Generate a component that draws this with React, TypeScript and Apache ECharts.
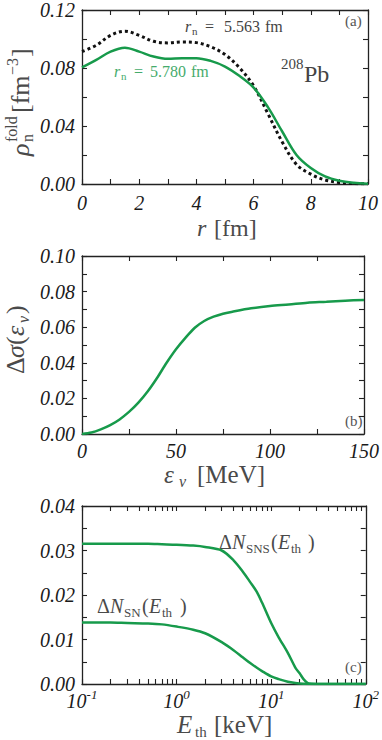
import React, { useEffect, useRef } from "react";
import * as echarts from "echarts";

// ---------- data ----------
const rValues = [0, 0.5, 1, 1.5, 2, 2.5, 3, 3.5, 4, 4.5, 5, 5.5, 6, 6.5, 7, 7.5, 8, 8.5, 9, 9.5, 10];
const rhoFold5780 = [0.0805, 0.0856, 0.0913, 0.094, 0.0913, 0.0879, 0.0863, 0.0868, 0.0868, 0.0849, 0.081, 0.0746, 0.0665, 0.053, 0.0362, 0.02, 0.011, 0.0052, 0.0022, 0.0008, 0.0002];
const rhoFold5563 = [0.0913, 0.0957, 0.1025, 0.1054, 0.1025, 0.0984, 0.0973, 0.098, 0.0975, 0.0946, 0.0893, 0.0803, 0.0677, 0.0485, 0.029, 0.0135, 0.0068, 0.0028, 0.001, 0.0003, 0.0001];

const energyNu = [0, 5, 10, 15, 20, 25, 30, 35, 40, 45, 50, 55, 60, 65, 70, 75, 80, 90, 100, 110, 120, 130, 140, 150];
const deltaSigma = [0, 0.0008, 0.0026, 0.005, 0.0082, 0.0124, 0.0176, 0.024, 0.0316, 0.04, 0.0476, 0.054, 0.0597, 0.0635, 0.0659, 0.0676, 0.0687, 0.0706, 0.0719, 0.0728, 0.0738, 0.0743, 0.0749, 0.0753];

const eThreshold = [0.1, 0.2, 0.3, 0.5, 0.7, 1, 1.5, 2, 3, 4, 5, 6, 7, 8, 10, 12, 15, 18, 20, 22, 25, 30, 50, 100];
const deltaNSNS = [0.0315, 0.0315, 0.0315, 0.0315, 0.0314, 0.0313, 0.0311, 0.0308, 0.03, 0.0278, 0.0253, 0.0229, 0.0208, 0.0183, 0.0137, 0.0105, 0.007, 0.0037, 0.0024, 0.0011, 0.0001, 0, 0, 0];
const deltaNSN = [0.0138, 0.0138, 0.0137, 0.0136, 0.0134, 0.0129, 0.0122, 0.0114, 0.0094, 0.0076, 0.006, 0.0047, 0.0037, 0.0029, 0.0017, 0.0011, 0.0005, 0.0002, 0.0001, 0.00005, 0, 0, 0, 0];

const logTickValues = [0.1, 0.2, 0.3, 0.4, 0.5, 0.6, 0.7, 0.8, 0.9, 1, 2, 3, 4, 5, 6, 7, 8, 9, 10, 20, 30, 40, 50, 60, 70, 80, 90, 100];
const logLabelValues = [0.1, 1, 10, 100];

// ---------- style ----------
const FONT = "Liberation Serif, Times New Roman, serif";
const GREEN = "#179a4b";
const GREEN_TEXT = "#45ab6c";
const TITLE = "#4a4a4a";
const INK = "#1a1a1a";

const axisLine = { show: true, onZero: false, lineStyle: { color: "#222", width: 1.3 } };
const tick = { show: true, inside: true, length: 5, lineStyle: { color: "#222", width: 1.1 } };
const labelBase = { color: INK, fontFamily: FONT, fontStyle: "italic", fontSize: 20 };

function xAxes(gridIndex: number, base: any, label: any, tickExtra: any = {}) {
  return [
    { ...base, gridIndex, position: "bottom", axisLine, axisTick: { ...tick, ...tickExtra }, axisLabel: { ...labelBase, ...label }, splitLine: { show: false } },
    { ...base, gridIndex, position: "top", axisLine, axisTick: { ...tick, ...tickExtra }, axisLabel: { show: false }, splitLine: { show: false } },
  ];
}
function yAxes(gridIndex: number, base: any, label: any) {
  return [
    { ...base, gridIndex, position: "left", axisLine, axisTick: tick, axisLabel: { ...labelBase, margin: 7, ...label }, splitLine: { show: false } },
    { ...base, gridIndex, position: "right", axisLine, axisTick: tick, axisLabel: { show: false }, splitLine: { show: false } },
  ];
}
const every = (step: number, digits: number) => (v: number) => {
  const k = Math.round((v / step) * 1000) / 1000;
  return Math.abs(k - Math.round(k)) < 1e-6 ? v.toFixed(digits) : "";
};

function t(text: string, x: number, baseline: number, size: number, o: any = {}) {
  return {
    type: "text",
    x,
    y: baseline - 0.3 * size,
    silent: true,
    style: {
      text,
      fontFamily: FONT,
      fontSize: size,
      fontStyle: o.italic ? "italic" : "normal",
      fill: o.fill || TITLE,
      textAlign: "left",
      textVerticalAlign: "middle",
    },
  };
}

function pairs(xs: number[], ys: number[]) {
  return xs.map((x, i) => [x, ys[i]]);
}

export default function App() {
  const ref = useRef<HTMLDivElement>(null);
  useEffect(() => {
    if (!ref.current) return;
    const chart = echarts.init(ref.current, undefined, { renderer: "svg" });
    const logRich = {
      b: { fontFamily: FONT, fontStyle: "italic", fontSize: 20, color: INK, verticalAlign: "bottom", padding: [3, 0, 0, 0] },
      e: { fontFamily: FONT, fontStyle: "italic", fontSize: 13, color: INK, verticalAlign: "top" },
    };
    const option: any = {
      animation: false,
      backgroundColor: "#ffffff",
      grid: [
        { left: 82, top: 6, width: 286, height: 178 },
        { left: 82, top: 256, width: 286, height: 178 },
        { left: 82, top: 506, width: 286, height: 178 },
      ],
      xAxis: [
        ...xAxes(0, { type: "value", min: 0, max: 10, interval: 1 }, { margin: 9, formatter: every(2, 0) }),
        ...xAxes(1, { type: "value", min: 0, max: 150, interval: 25 }, { margin: 7, formatter: every(50, 0) }),
        ...xAxes(
          2,
          { type: "log", logBase: 10, min: 0.1, max: 100 },
          { margin: 4, customValues: logLabelValues, formatter: (v: number) => `{b|10}{e|${Math.round(Math.log10(v))}}`, rich: logRich },
          { customValues: logTickValues }
        ),
      ],
      yAxis: [
        ...yAxes(0, { type: "value", min: 0, max: 0.12, interval: 0.02 }, { formatter: every(0.04, 2) }),
        ...yAxes(1, { type: "value", min: 0, max: 0.1, interval: 0.01 }, { formatter: every(0.02, 2) }),
        ...yAxes(2, { type: "value", min: 0, max: 0.04, interval: 0.005 }, { formatter: every(0.01, 2) }),
      ],
      series: [
        {
          type: "line", xAxisIndex: 0, yAxisIndex: 0, data: pairs(rValues, rhoFold5563), smooth: 0.35, showSymbol: false,
          lineStyle: { color: "#111", width: 3, type: [3, 3], cap: "butt" },
        },
        {
          type: "line", xAxisIndex: 0, yAxisIndex: 0, data: pairs(rValues, rhoFold5780), smooth: 0.35, showSymbol: false,
          lineStyle: { color: GREEN, width: 2.5 },
        },
        {
          type: "line", xAxisIndex: 2, yAxisIndex: 2, data: pairs(energyNu, deltaSigma), smooth: 0.3, showSymbol: false,
          lineStyle: { color: GREEN, width: 2.5 },
        },
        {
          type: "line", xAxisIndex: 4, yAxisIndex: 4, data: pairs(eThreshold, deltaNSNS), smooth: 0.3, showSymbol: false,
          lineStyle: { color: GREEN, width: 2.5 },
        },
        {
          type: "line", xAxisIndex: 4, yAxisIndex: 4, data: pairs(eThreshold, deltaNSN), smooth: 0.3, showSymbol: false,
          lineStyle: { color: GREEN, width: 2.5 },
        },
      ],
      graphic: [
        // panel (a) annotations
        t("r", 185, 31, 16, { italic: true, fill: "#444" }),
        t("n", 192, 34, 11, { fill: "#444" }),
        t("=", 205, 31, 16, { fill: "#444" }),
        t("5.563", 224, 31, 16, { fill: "#444" }),
        t("fm", 265, 31, 16, { fill: "#444" }),
        t("r", 114, 76, 16, { italic: true, fill: GREEN_TEXT }),
        t("n", 121, 79, 11, { fill: GREEN_TEXT }),
        t("=", 134, 76, 16, { fill: GREEN_TEXT }),
        t("5.780", 150, 76, 16, { fill: GREEN_TEXT }),
        t("fm", 191, 76, 16, { fill: GREEN_TEXT }),
        t("208", 281, 68, 15, { fill: "#444" }),
        t("Pb", 304, 81, 24, { fill: "#444" }),
        t("(a)", 345, 25, 15, { fill: "#555" }),
        t("(b)", 345, 425, 15, { fill: "#555" }),
        t("(c)", 345, 671, 15, { fill: "#555" }),
        // panel (a) x title
        t("r", 197, 235, 24, { italic: true }),
        t("[fm]", 214, 235, 24),
        // panel (a) y title (rotated)
        {
          type: "group", x: 28, y: 96, rotation: Math.PI / 2, silent: true,
          children: [
            t("ρ", -60, 0, 26, { italic: true }),
            t("n", -46, 4, 16),
            t("fold", -46, -12, 16),
            t("[fm", -17, 0, 26),
            t("−3", 21, -11, 16),
            t("]", 39, 0, 26),
          ],
        },
        // panel (b) x title
        t("ε", 164, 482, 25, { italic: true }),
        t("ν", 179, 486, 16, { italic: true }),
        t("[MeV]", 197, 482, 25),
        // panel (b) y title (rotated)
        {
          type: "group", x: 23, y: 339, rotation: Math.PI / 2, silent: true,
          children: [
            t("Δ", -35, 0, 26),
            t("σ", -19, 0, 26, { italic: true }),
            t("(", -6, 0, 26),
            t("ε", 3, 0, 26, { italic: true }),
            t("ν", 16, 5, 16, { italic: true }),
            t(")", 25, 0, 26),
          ],
        },
        // panel (c) annotations
        t("Δ", 219, 548, 20),
        t("N", 232, 548, 20, { italic: true }),
        t("SNS", 246, 552, 13),
        t("(", 271, 548, 20),
        t("E", 278, 548, 20, { italic: true }),
        t("th", 291, 552, 13),
        t(")", 308, 548, 20),
        t("Δ", 97, 612, 20),
        t("N", 110, 612, 20, { italic: true }),
        t("SN", 124, 616, 13),
        t("(", 142, 612, 20),
        t("E", 149, 612, 20, { italic: true }),
        t("th", 162, 616, 13),
        t(")", 180, 612, 20),
        // panel (c) x title
        t("E", 177, 732, 25, { italic: true }),
        t("th", 195, 736, 15),
        t("[keV]", 214, 732, 25),
      ],
    };
    chart.setOption(option);
    return () => chart.dispose();
  }, []);
  return <div ref={ref} style={{ position: "absolute", left: 0, top: 0, width: 382, height: 740 }} />;
}
